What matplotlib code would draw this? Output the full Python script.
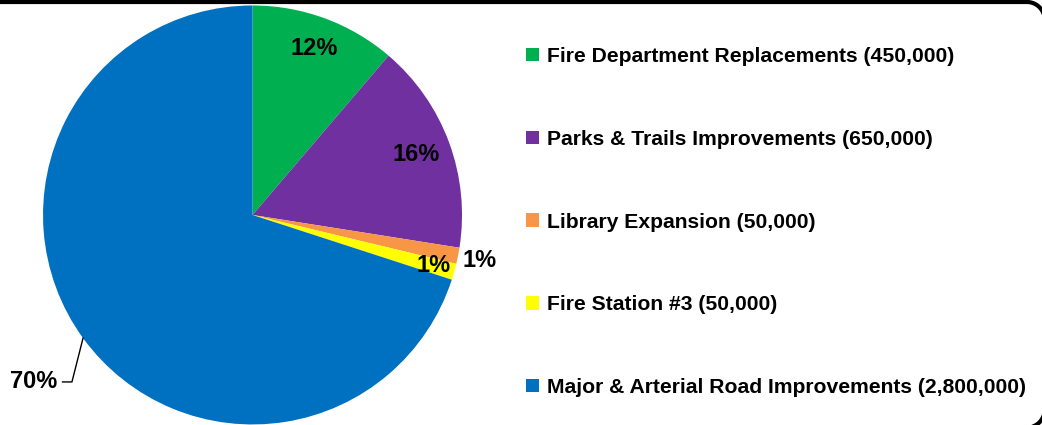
import matplotlib.pyplot as plt
from matplotlib.patches import Patch
import numpy as np

# capital project amounts
projects = [
    "Fire Department Replacements (450,000)",
    "Parks & Trails Improvements (650,000)",
    "Library Expansion (50,000)",
    "Fire Station #3 (50,000)",
    "Major & Arterial Road Improvements (2,800,000)",
]
amounts = [450000, 650000, 50000, 50000, 2800000]
pct_labels = ["12%", "16%", "1%", "1%", "70%"]
colors = ["#00B050", "#7030A0", "#F79646", "#FFFF00", "#0070C0"]

plt.rcParams['font.family'] = ['Liberation Sans', 'DejaVu Sans']
plt.rcParams['font.weight'] = 'bold'

fig = plt.figure(figsize=(10.42, 4.25), dpi=100)

# background axes in pixel units, holds the rounded frame (cut off by the edges)
bg = fig.add_axes([0, 0, 1, 1], zorder=-1)
bg.set_xlim(0, 1042)
bg.set_ylim(425, 0)
bg.axis('off')
top, right, bottom, r = 2.0, 1044.5, 427.5, 17.5
t = np.linspace(0, np.pi / 2, 20)
fx = np.concatenate([[-10], right - r + r * np.sin(t),
                     right - r + r * np.cos(t), [-10]])
fy = np.concatenate([[top], top + r - r * np.cos(t),
                     bottom - r + r * np.sin(t), [bottom]])
bg.plot(fx, fy, color='black', lw=3, solid_joinstyle='round', clip_on=False)

ax = fig.add_axes([0.0413, 0.0012, 0.4021, 0.986])
wedges, _ = ax.pie(amounts, colors=colors, startangle=90, counterclock=False,
                   radius=1, wedgeprops=dict(linewidth=0))
ax.set_xlim(-1, 1)
ax.set_ylim(-1, 1)
ax.set_aspect('equal')
ax.axis('off')

# label distance per slice (None -> leader line)
dists = [0.845, 0.83, 1.107, 0.896, None]
for w, lab, d in zip(wedges, pct_labels, dists):
    mid = np.deg2rad((w.theta1 + w.theta2) / 2)
    cx, cy = np.cos(mid), np.sin(mid)
    if d is None:
        ax.plot([cx, -0.862, -0.907], [cy, -0.797, -0.797], color='black',
                lw=1, clip_on=False)
        ax.text(-0.93, -0.797, lab, ha='right', va='center', fontsize=17,
                fontweight='bold')
    else:
        ax.text(d * cx, d * cy, lab, ha='center', va='center', fontsize=17,
                fontweight='bold')

handles = [Patch(facecolor=c, edgecolor='none') for c in colors]
fig.legend(handles, projects, loc='upper left', bbox_to_anchor=(0.497, 0.909),
           frameon=False, fontsize=15.2, handlelength=0.6, handleheight=0.6,
           handletextpad=0.4, labelspacing=3.02, borderaxespad=0)

fig.savefig("out.png", dpi=100)
